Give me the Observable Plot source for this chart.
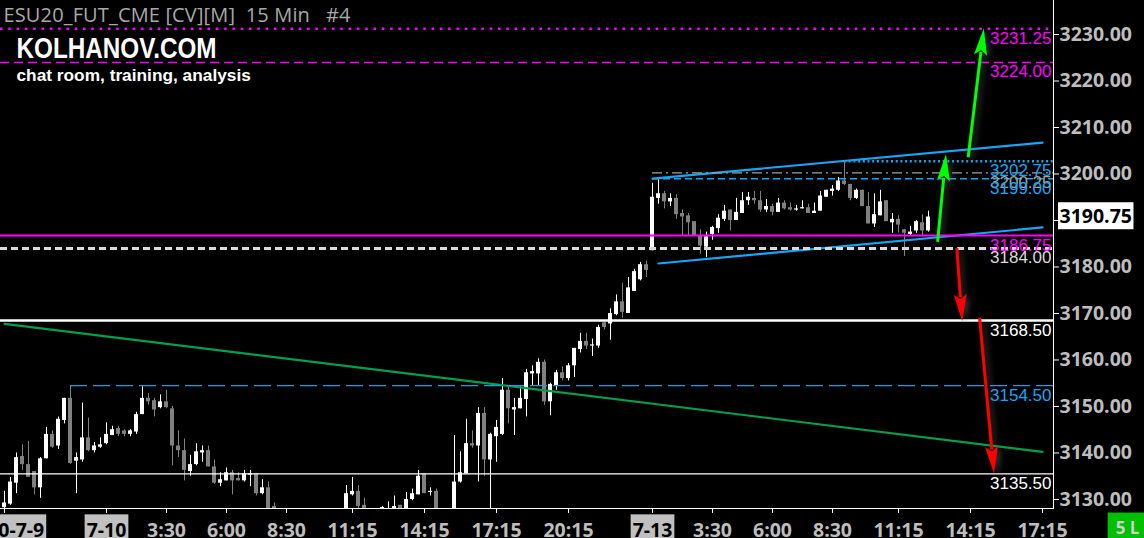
<!DOCTYPE html>
<html>
<head>
<meta charset="utf-8">
<script src="https://cdn.jsdelivr.net/npm/d3@7"></script>
<script src="https://cdn.jsdelivr.net/npm/@observablehq/plot@0.6"></script>
<style>
  html, body { margin: 0; padding: 0; background: #000; overflow: hidden; }
  #chart svg { display: block; white-space: pre; }
</style>
</head>
<body>
<div id="chart"></div>
<script>
// ES September 2020 futures, 15-minute bars. Bar index counts 15-minute slots
// starting from 2020-07-09 20:45 (bar 17 = 7-10 01:00, bar 108 = 7-13 01:00).
const barIndex = [
  0, 1, 2, 3, 4, 5, 6, 7, 8, 9, 10, 11, 12, 13, 14, 15, 16, 17, 18, 19,
  20, 21, 22, 23, 24, 25, 26, 27, 28, 29, 30, 31, 32, 33, 34, 35, 36, 37, 38, 39,
  40, 41, 42, 43, 44, 45,
  57, 58, 59, 60, 63, 64, 65, 66, 67, 68, 69, 70, 71, 72,
  75, 76, 77, 78, 79, 80, 81, 82, 83, 84, 85, 86, 87, 88, 89, 90, 91, 92, 93, 94,
  95, 96, 97, 98, 99, 100, 101, 102, 103, 104, 105, 106, 107, 108, 109, 110, 111, 112, 113, 114,
  115, 116, 117, 118, 119, 120, 121, 122, 123, 124, 125, 126, 127, 128, 129, 130, 131, 132, 133, 134,
  135, 136, 137, 138, 139, 140, 141, 142, 143, 144, 145, 146, 147, 148, 149, 150, 151, 152, 153, 154
];
const opens = [
  3128.25, 3129, 3133.5, 3139.25, 3137.5, 3136, 3132.5, 3138.75, 3144, 3141.5, 3147, 3151.75, 3138.25, 3138.5, 3143.25, 3140.5, 3141.25, 3142, 3143.75, 3145.25,
  3144.75, 3144, 3144.5, 3148.25, 3151.75, 3151.25, 3149.75, 3151, 3149.5, 3141.5, 3140.5, 3136, 3137.5, 3140, 3140.5, 3137, 3133.5, 3134, 3135.75, 3134.5,
  3134, 3135.25, 3135.5, 3131.25, 3132.5, 3128.5,
  3127, 3131, 3131.75, 3128.75, 3127.75, 3126.5, 3127, 3128.75, 3127, 3130, 3131, 3135.5, 3131.5, 3131.75,
  3127, 3133.75, 3135.5, 3142, 3141.5, 3148.5, 3138.5, 3143.5, 3144, 3153.5, 3149.25, 3149.5, 3151.5, 3157, 3157, 3159.5, 3151, 3154.5, 3157.25, 3156,
  3158.75, 3162.25, 3164, 3163, 3163, 3168, 3167.75, 3169.75, 3172.5, 3170, 3174.75, 3177.25, 3180.5, 3183.5, 3194.75, 3195.75, 3194, 3194.75, 3191.5, 3191,
  3189.75, 3186.75, 3184.25, 3187, 3188.25, 3190.25, 3192.25, 3190, 3191.5, 3194.25, 3194.75, 3194.25, 3192.25, 3193, 3191.75, 3193.75, 3192.75, 3192.25, 3192.5, 3192.75,
  3191.5, 3192, 3195, 3196.25, 3196.5, 3198.5, 3197.75, 3194.75, 3196.5, 3193, 3189.25, 3191, 3194.25, 3189.5, 3190.25, 3188, 3187, 3187.75, 3189.5, 3187.75
];
const highs = [
  3131.75, 3134.75, 3140, 3141.75, 3142.5, 3136, 3139, 3145.5, 3144.75, 3147.75, 3151.75, 3154.5, 3140, 3150.75, 3147.5, 3142.25, 3143.25, 3146.5, 3145.75, 3145.75,
  3145, 3145, 3148.75, 3154.25, 3152.75, 3151.75, 3152.5, 3153.5, 3150, 3144.75, 3143, 3139.5, 3142, 3141.5, 3141.5, 3138.5, 3135.75, 3136.75, 3136.25, 3135.75,
  3136.25, 3136.25, 3135.5, 3134.25, 3133.75, 3129.25,
  3133, 3134.75, 3133, 3130.25, 3128.5, 3129.5, 3130.75, 3128.75, 3131.5, 3132.25, 3136.25, 3135.5, 3132.5, 3132.25,
  3143.75, 3140.25, 3147.25, 3144.75, 3149.75, 3149.75, 3144.25, 3147, 3156, 3154.25, 3151.75, 3154.25, 3158, 3158.75, 3160.25, 3160, 3155, 3157.75, 3158.5, 3159.25,
  3162.5, 3165.75, 3165.75, 3164.5, 3167.5, 3168, 3171, 3174, 3176.5, 3177.75, 3179.5, 3181, 3181.25, 3198, 3199, 3196.25, 3195.75, 3195.5, 3192.25, 3191.5,
  3189.75, 3188, 3187.5, 3188.75, 3191.25, 3193.25, 3192.25, 3194.75, 3196, 3196, 3196.25, 3196.25, 3194.5, 3193.5, 3194.75, 3194.25, 3193.75, 3193.25, 3194.25, 3193.5,
  3193.75, 3196.25, 3196.5, 3197.5, 3199.25, 3202.75, 3197.75, 3196.75, 3196.5, 3196, 3195.75, 3196.5, 3194.25, 3191.5, 3191, 3188, 3188.75, 3190, 3191.25, 3192
];
const lows = [
  3127.5, 3128.75, 3131.25, 3136.25, 3134.75, 3131, 3130.25, 3138.75, 3141, 3140.75, 3146.25, 3137.5, 3131.25, 3138, 3140.25, 3140, 3141, 3141.75, 3143.75, 3143.5,
  3143.5, 3143.5, 3144, 3148.25, 3150.25, 3147.75, 3149.5, 3149.5, 3137.25, 3139, 3134, 3135, 3137.25, 3138, 3137, 3133.25, 3132.75, 3134, 3131, 3134,
  3133.75, 3132.75, 3130.75, 3131, 3126, 3127,
  3126, 3130.75, 3127.5, 3127, 3127, 3126, 3126.5, 3126.5, 3126.5, 3129.75, 3131, 3131.25, 3130.75, 3126,
  3126, 3133.5, 3135.5, 3141, 3133.75, 3135, 3127, 3138, 3143.75, 3146.25, 3143.75, 3149.5, 3147.75, 3154.5, 3154.5, 3150.25, 3148, 3153.5, 3155.5, 3155.5,
  3156.25, 3161.5, 3162.25, 3160.75, 3162.5, 3166.5, 3164.25, 3169.5, 3169, 3170, 3174.75, 3177, 3177.75, 3183.5, 3193.5, 3192.5, 3193, 3190.25, 3186.75, 3186.75,
  3186.75, 3182.75, 3182, 3185.75, 3187.25, 3189.75, 3187.75, 3190, 3191.5, 3193.25, 3193.5, 3191.75, 3191.75, 3191, 3191.75, 3192.25, 3192, 3192, 3192.5, 3191.5,
  3191.5, 3192, 3195, 3195.25, 3196.25, 3197.5, 3194.25, 3194.5, 3193, 3189.25, 3188.5, 3191, 3189.75, 3187.25, 3187.25, 3182.25, 3186.75, 3187.25, 3186.5, 3187.5
];
const closes = [
  3129.25, 3133.75, 3139, 3137.5, 3134.75, 3132.5, 3138.75, 3144, 3141.25, 3147.25, 3151.75, 3137.75, 3139, 3143.25, 3140.5, 3141.5, 3141.75, 3144, 3145, 3144,
  3144, 3144.75, 3148.25, 3151.75, 3151, 3149.25, 3151, 3149.75, 3141.5, 3140.5, 3136.25, 3137.5, 3140.25, 3140.5, 3137, 3133.5, 3134.25, 3135.75, 3134, 3134,
  3135.5, 3135.5, 3131.25, 3132.5, 3127.5, 3127.75,
  3131.25, 3131.75, 3128.5, 3128, 3128.25, 3127.5, 3128.5, 3127, 3130, 3131.25, 3135, 3131.25, 3131.75, 3127,
  3133.75, 3135.75, 3142, 3141.5, 3148.5, 3138.5, 3144, 3145.5, 3153.5, 3149.5, 3149.75, 3151.75, 3157.25, 3157.5, 3159.5, 3151, 3154.75, 3157.25, 3156, 3158.75,
  3162.5, 3164, 3163, 3163.25, 3167, 3167, 3170, 3172.5, 3170.25, 3175.5, 3179, 3180.5, 3179.25, 3195, 3195.75, 3194, 3194.75, 3191.25, 3190.75, 3189.5,
  3186.75, 3184.5, 3186.5, 3188.5, 3190.5, 3192, 3190, 3191.75, 3194.25, 3195, 3194.25, 3192.25, 3193, 3191.75, 3193.75, 3192.5, 3192.25, 3192.5, 3192.75, 3191.5,
  3192, 3195.25, 3196.5, 3196.75, 3198.5, 3197.75, 3194.75, 3196.5, 3193, 3189.25, 3191.25, 3194, 3189.75, 3190.25, 3189, 3187.25, 3187.5, 3189.75, 3187.75, 3190.75
];

// Time axis: bar positions of the labelled ticks and their labels
const tickBars = [0, 17, 27, 37, 47, 58, 70, 82, 94, 108, 118, 128, 138, 149, 161, 173];
const tickLabels = ["2020-7-9", "7-10", "3:30", "6:00", "8:30", "11:15", "14:15", "17:15", "20:15",
                    "7-13", "3:30", "6:00", "8:30", "11:15", "14:15", "17:15"];

// Price axis
const priceTicks = [3130, 3140, 3150, 3160, 3170, 3180, 3190, 3200, 3210, 3220, 3230];
const lastPrice = 3190.75;

// Horizontal levels and the bar each one starts from (null = full width)
const levelPrices   = [3231.25, 3224.00, 3200.25, 3202.75, 3199.00, 3186.75, 3184.00, 3168.50, 3154.50, 3135.50];
const levelStartBar = [null,    null,    108,     140,     108,     null,    null,    null,    11,      null];

// Rising channel on 7-13 and the long falling trend line
const channelUpperBars = [108, 173], channelUpperPrices = [3199.00, 3206.75];
const channelLowerBars = [109, 173], channelLowerPrices = [3180.75, 3188.50];
const trendBars = [0, 173], trendPrices = [3167.75, 3140.25];

// Scenario arrows: start bar/price -> end bar/price
const arrowFromBar   = [155.6, 160.7, 158.8, 162.6];
const arrowFromPrice = [3185.3, 3203.5, 3184.0, 3169.0];
const arrowToBar     = [157.0, 163.3, 159.7, 165.0];
const arrowToPrice   = [3204.2, 3231.25, 3168.25, 3135.5];

// Header texts and position badge
const symbolTitle = "ESU20_FUT_CME [CV][M]  15 Min   #4";
const brandName = "KOLHANOV.COM";
const brandTagline = "chat room, training, analysis";
const positionBadge = "5 L";

// ---------------------------------------------------------------------------
const candles = barIndex.map((i, k) => ({i, o: opens[k], h: highs[k], l: lows[k], c: closes[k]}));
const bull = d => d.c >= d.o;
const bear = d => d.c < d.o;

const MAGENTA = "#ff00ff", BLUE = "#14a6f7", LIGHT = "#d9d9d9";
// stroke, width, dash for each level (same order as levelPrices)
const levelStyle = [
  {stroke: MAGENTA, width: 2.5, dash: "2.5,5.8", text: MAGENTA},
  {stroke: MAGENTA, width: 1.5, dash: "9,5", text: MAGENTA},
  {stroke: "#a0a0a0", width: 1.2, dash: "10,4,2,4", text: "#a0a0a0"},
  {stroke: BLUE, width: 2.5, dash: "2,2.7", text: BLUE},
  {stroke: BLUE, width: 1.5, dash: "7,4", text: BLUE},
  {stroke: MAGENTA, width: 2, dash: null, text: MAGENTA},
  {stroke: LIGHT, width: 3, dash: "7,4", text: LIGHT},
  {stroke: "#ffffff", width: 2.6, dash: null, text: "#ffffff"},
  {stroke: "#1e9be6", width: 1.3, dash: "17,6", text: BLUE},
  {stroke: "#ffffff", width: 1.3, dash: null, text: "#ffffff"}
];

const xDomain = [-4 / 6, 1049 / 6];
const yDomain = [3128.06, 3237.31];

const levelMarks = levelPrices.map((p, k) => {
  const s = levelStyle[k];
  const opts = {y: d => d, stroke: s.stroke, strokeWidth: s.width};
  if (s.dash) opts.strokeDasharray = s.dash;
  if (levelStartBar[k] != null) { opts.x1 = () => levelStartBar[k]; opts.x2 = () => xDomain[1]; }
  return Plot.ruleY([p], opts);
});

const levelLabelMarks = levelPrices.map((p, k) => Plot.text([p], {
  y: d => d, text: d => d.toFixed(2), frameAnchor: "right", textAnchor: "end", dx: -2,
  lineAnchor: "top", dy: 3, fill: levelStyle[k].text,
  fontFamily: "Liberation Sans, Arial, sans-serif", fontWeight: "normal", fontSize: 17
}));

// Arrow shafts with filled heads, placed through the plot's x and y scales
function arrowMark(index, scales) {
  const g = d3.create("svg:g").attr("aria-label", "arrows")
    .style("filter", "drop-shadow(3px 2px 3px rgba(110,110,110,0.55))");
  arrowFromBar.forEach((_, k) => {
    const x1 = scales.x(arrowFromBar[k]), y1 = scales.y(arrowFromPrice[k]);
    const x2 = scales.x(arrowToBar[k]), y2 = scales.y(arrowToPrice[k]);
    const color = arrowToPrice[k] > arrowFromPrice[k] ? "#00ff00" : "#ff0000";
    const len = Math.hypot(x2 - x1, y2 - y1), ux = (x2 - x1) / len, uy = (y2 - y1) / len;
    const hl = 27, hw = 6.5;
    const bx = x2 - ux * hl, by = y2 - uy * hl;
    g.append("line").attr("x1", x1).attr("y1", y1).attr("x2", bx + ux * 3).attr("y2", by + uy * 3)
      .attr("stroke", color).attr("stroke-width", 3);
    g.append("path")
      .attr("d", `M${x2},${y2}L${bx - uy * hw},${by + ux * hw}L${bx + ux * 5},${by + uy * 5}L${bx + uy * hw},${by - ux * hw}Z`)
      .attr("fill", color);
  });
  return g.node();
}

const plot = Plot.plot({
  width: 1144,
  height: 538,
  marginLeft: 0,
  marginRight: 91,
  marginTop: 0,
  marginBottom: 30,
  style: {background: "#000", color: "#ffffff", fontFamily: "'Open Sans', sans-serif", fontSize: "19.5px", fontWeight: "bold"},
  x: {
    domain: xDomain, axis: "bottom", ticks: tickBars, tickSize: 5, tickPadding: 10, line: true, label: null,
    tickFormat: d => tickLabels[tickBars.indexOf(d)]
  },
  y: {
    domain: yDomain, axis: "right", ticks: priceTicks, tickSize: 5, tickPadding: 1, line: true, label: null,
    tickFormat: d => (d === 3190 ? "" : d.toFixed(2))
  },
  marks: [
    // candles: wicks then bodies
    Plot.ruleX(candles, {filter: bear, x: "i", y1: "l", y2: "h", stroke: "#808080", strokeWidth: 1, clip: true}),
    Plot.ruleX(candles, {filter: bear, x: "i", y1: "o", y2: "c", stroke: "#808080", strokeWidth: 4, dx: -0.5, clip: true}),
    Plot.ruleX(candles, {filter: bull, x: "i", y1: "l", y2: "h", stroke: "#ffffff", strokeWidth: 1, clip: true}),
    Plot.ruleX(candles, {filter: bull, x: "i", y1: "o", y2: "c", stroke: "#ffffff", strokeWidth: 4, dx: -0.5, clip: true}),

    // trend line and channel
    Plot.line(trendBars.map((b, k) => ({b, p: trendPrices[k]})), {x: "b", y: "p", stroke: "#00a04c", strokeWidth: 2.2}),
    Plot.line(channelUpperBars.map((b, k) => ({b, p: channelUpperPrices[k]})), {x: "b", y: "p", stroke: BLUE, strokeWidth: 2.2}),
    Plot.line(channelLowerBars.map((b, k) => ({b, p: channelLowerPrices[k]})), {x: "b", y: "p", stroke: BLUE, strokeWidth: 2.2}),

    ...levelMarks,
    ...levelLabelMarks,

    arrowMark,

    // header texts
    Plot.text([symbolTitle], {
      text: d => d, frameAnchor: "top-left", dx: 3, dy: 7, lineAnchor: "top", textAnchor: "start",
      fill: "#a8a8a8", fontFamily: "Open Sans", fontWeight: "normal", fontSize: 20
    }),
    Plot.text([brandName], {
      text: d => d, frameAnchor: "top-left", dx: 16, dy: 36.5, lineAnchor: "top", textAnchor: "start",
      fill: "#ffffff", fontFamily: "Liberation Sans, Arial", fontWeight: "bold", fontSize: 29
    }),
    Plot.text([brandTagline], {
      text: d => d, frameAnchor: "top-left", dx: 16, dy: 68, lineAnchor: "top", textAnchor: "start",
      fill: "#ffffff", fontFamily: "Liberation Sans, Arial", fontWeight: "bold", fontSize: 17.3
    }),

    // last price tag on the price axis
    Plot.text([lastPrice], {
      y: d => d, text: d => d.toFixed(2), frameAnchor: "right", textAnchor: "start", dx: 6,
      fill: "#000000", fontFamily: "Open Sans", fontWeight: "bold", fontSize: 19.5
    }),
    // position badge in the corner
    Plot.text([positionBadge], {
      text: d => d, frameAnchor: "bottom-right", dx: 74, dy: 13.5, lineAnchor: "top", textAnchor: "middle",
      fill: "#cfcfcf", fontFamily: "Open Sans", fontWeight: "bold", fontSize: 17
    })
  ]
});

document.getElementById("chart").append(plot);

// Boxes behind selected labels
function boxBehind(selection, fill, padX, padTop, padBottom) {
  selection.each(function () {
    const b = this.getBBox();
    const r = document.createElementNS("http://www.w3.org/2000/svg", "rect");
    r.setAttribute("x", b.x - padX);
    r.setAttribute("y", b.y - padTop);
    r.setAttribute("width", b.width + 2 * padX);
    r.setAttribute("height", b.height + padTop + padBottom);
    r.setAttribute("fill", fill);
    const t = this.getAttribute("transform");
    if (t) r.setAttribute("transform", t);
    this.parentNode.insertBefore(r, this);
  });
}
const textNamed = (label) => svg.selectAll("text").filter(function () { return this.textContent === label; });

const svg = d3.select(plot);
const axisText = svg.selectAll('g[aria-label*="axis"] text');
axisText.attr("fill", "#bdbdbd");
const dateText = axisText.filter(function () { return this.textContent.includes("-"); });
boxBehind(dateText, "#c0c0c0", 2, 2, -4);
dateText.attr("fill", "#000000");

// header lines set to their measured widths
textNamed(brandName).attr("textLength", 200).attr("lengthAdjust", "spacingAndGlyphs");
textNamed(symbolTitle).attr("textLength", 347).attr("lengthAdjust", "spacing");

boxBehind(textNamed(lastPrice.toFixed(2)).filter(function () { return this.closest("g").getAttribute("fill") === "#000000"; }), "#ffffff", 1.5, 0, 0);
boxBehind(textNamed(positionBadge), "#00c000", 8, 3.5, 2);
</script>
</body>
</html>
